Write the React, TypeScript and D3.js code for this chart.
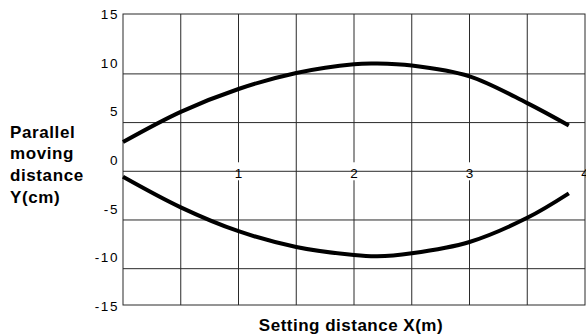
import React from "react";
import * as d3 from "d3";

const xValues = [0, 0.5, 1, 1.5, 2, 2.2, 2.5, 3, 3.5, 3.86];
const upperCurve = [3.0, 6.1, 8.45, 10.1, 11.0, 11.06, 10.86, 9.75, 7.0, 4.7];
const lowerCurve = [-0.56, -3.7, -6.15, -7.77, -8.6, -8.73, -8.42, -7.26, -4.78, -2.27];

const yTickLabels = [15, 10, 5, 0, -5, -10, -15];
const yGridValues = [10, 5, 0, -5, -10];
const xGridValues = [0.5, 1, 1.5, 2, 2.5, 3, 3.5];
const xTickLabels = [1, 2, 3, 4];

const yTitleLines = ["Parallel", "moving", "distance", "Y(cm)"];
const xTitle = "Setting distance X(m)";

const W = 586;
const H = 336;
const left = 123;
const right = 585;
const top = 14;
const bottom = 305;

const FONT = "'Liberation Sans', Arial, Helvetica, sans-serif";

export default function App() {
  const x = d3.scaleLinear().domain([0, 4]).range([left, right]);
  const y = d3.scaleLinear().domain([-13.73, 16.15]).range([bottom, top]);

  const line = d3
    .line<number>()
    .x((_, i) => x(xValues[i]))
    .y((d) => y(d))
    .curve(d3.curveCatmullRom.alpha(0.5));

  const gridColor = "#2a2a2a";

  return (
    <svg
      width={W}
      height={H}
      style={{ position: "absolute", left: 0, top: 0, background: "#fff" }}
    >
      <rect x={0} y={0} width={W} height={H} fill="#fff" />
      {xGridValues.map((v) => (
        <line
          key={"vx" + v}
          x1={x(v)}
          x2={x(v)}
          y1={top}
          y2={bottom}
          stroke={gridColor}
          strokeWidth={1}
        />
      ))}
      {xTickLabels.map((v) => (
        <rect
          key={"bg" + v}
          x={x(v) - 4.5}
          y={y(0) - 9}
          width={9}
          height={18}
          fill="#fff"
        />
      ))}
      {yGridValues.map((v) => (
        <line
          key={"hy" + v}
          x1={left}
          x2={right}
          y1={y(v)}
          y2={y(v)}
          stroke={gridColor}
          strokeWidth={1}
        />
      ))}
      <rect
        x={left}
        y={top}
        width={right - left}
        height={bottom - top}
        fill="none"
        stroke={gridColor}
        strokeWidth={1}
      />
      <path
        d={line(upperCurve) || ""}
        fill="none"
        stroke="#000"
        strokeWidth={4}
      />
      <path
        d={line(lowerCurve) || ""}
        fill="none"
        stroke="#000"
        strokeWidth={4}
      />
      {yTickLabels.map((v) => (
        <text
          key={"yl" + v}
          x={119}
          y={y(v) - 10.7}
          textAnchor="end"
          dominantBaseline="central"
          fontFamily={FONT}
          fontSize={13.5}
          letterSpacing={1.6}
          fill="#000"
        >
          {v}
        </text>
      ))}
      {xTickLabels.map((v) => (
        <text
          key={"xl" + v}
          x={x(v)}
          y={y(0) + 2}
          textAnchor="middle"
          dominantBaseline="central"
          fontFamily={FONT}
          fontSize={13.5}
          fill="#000"
        >
          {v}
        </text>
      ))}
      <text
        x={10}
        y={137.5}
        fontFamily={FONT}
        fontSize={17}
        fontWeight="bold"
        letterSpacing={0.6}
        fill="#000"
      >
        {yTitleLines.map((t, i) => (
          <tspan key={t} x={10} dy={i === 0 ? 0 : 21.7}>
            {t}
          </tspan>
        ))}
      </text>
      <text
        x={351}
        y={330.5}
        textAnchor="middle"
        fontFamily={FONT}
        fontSize={17}
        fontWeight="bold"
        letterSpacing={0.5}
        fill="#000"
      >
        {xTitle}
      </text>
    </svg>
  );
}
